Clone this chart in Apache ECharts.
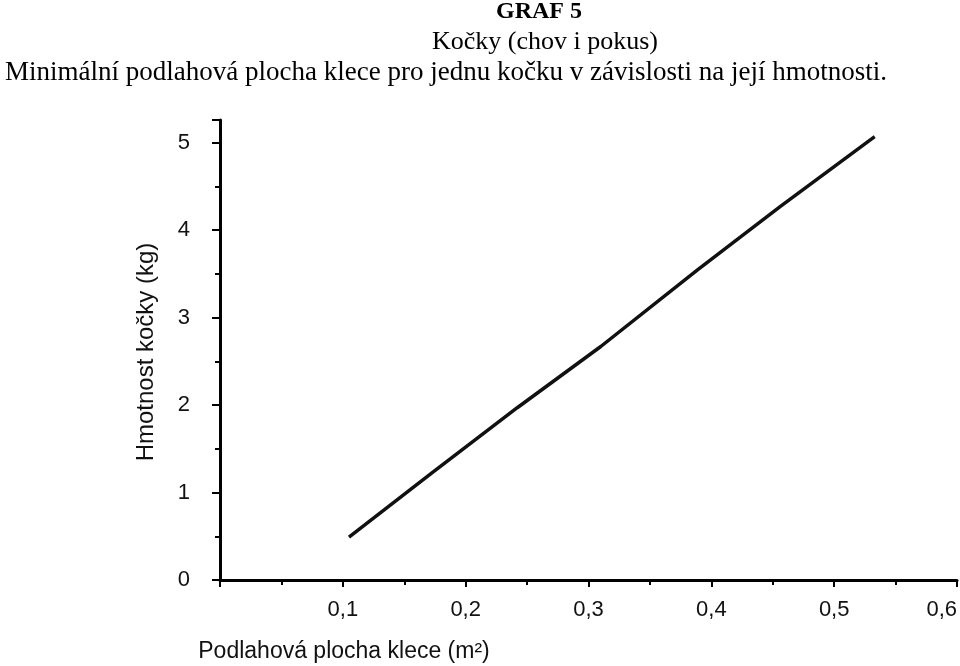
<!DOCTYPE html>
<html>
<head>
<meta charset="utf-8">
<script src="https://cdn.jsdelivr.net/npm/echarts@6/dist/echarts.min.js"></script>
<style>html,body{margin:0;padding:0;background:#fff}#c{width:960px;height:666px}</style>
</head>
<body>
<div id="c"></div>
<script>
const titleLines = ['GRAF 5', 'Kočky (chov i pokus)', 'Minimální podlahová plocha klece pro jednu kočku v závislosti na její hmotnosti.'];
const xAxisName = 'Podlahová plocha klece (m²)';
const yAxisName = 'Hmotnost kočky (kg)';
const areaM2 = [0.105, 0.172, 0.242, 0.310, 0.389, 0.456, 0.533];
const weightKg = [0.49, 1.22, 1.97, 2.67, 3.55, 4.27, 5.07];

const chart = echarts.init(document.getElementById('c'));
const sans = 'Liberation Sans, Arial, sans-serif';
const serif = 'Liberation Serif, Times New Roman, serif';
chart.setOption({
  animation: false,
  backgroundColor: '#fff',
  grid: { left: 220, right: 3, top: 120, bottom: 86, containLabel: false, outerBoundsMode: 'none' },
  xAxis: {
    type: 'value', min: 0, max: 0.6, interval: 0.1,
    axisLine: { lineStyle: { color: '#000', width: 3 } },
    axisTick: { show: true, inside: false, length: 7, lineStyle: { color: '#000', width: 2 } },
    minorTick: { show: true, splitNumber: 2, length: 5, lineStyle: { color: '#000', width: 2 } },
    splitLine: { show: false },
    axisLabel: {
      margin: 19, fontSize: 22, fontFamily: sans, color: '#111', hideOverlap: false,
      alignMaxLabel: 'right',
      formatter: v => v === 0 ? '' : v.toFixed(1).replace('.', ',')
    }
  },
  yAxis: {
    type: 'value', min: 0, max: 5.26, interval: 1,
    axisLine: { lineStyle: { color: '#000', width: 3 } },
    axisTick: { show: true, inside: false, length: 8, lineStyle: { color: '#000', width: 2 } },
    minorTick: { show: true, splitNumber: 2, length: 5, lineStyle: { color: '#000', width: 2 } },
    splitLine: { show: false },
    axisLabel: {
      margin: 30, fontSize: 22, fontFamily: sans, color: '#111',
      formatter: v => Number.isInteger(v) ? String(v) : ''
    }
  },
  graphic: [
    { type: 'text', x: 539, y: 12, style: { text: titleLines[0], font: 'bold 24px ' + serif, fill: '#000', align: 'center', verticalAlign: 'middle' } },
    { type: 'text', x: 545, y: 42, style: { text: titleLines[1], font: '26px ' + serif, fill: '#000', align: 'center', verticalAlign: 'middle' } },
    { type: 'text', x: 446, y: 73, style: { text: titleLines[2], font: '27px ' + serif, fill: '#000', align: 'center', verticalAlign: 'middle' } },
    { type: 'text', x: 344, y: 652, style: { text: xAxisName, font: '23px ' + sans, fill: '#111', align: 'center', verticalAlign: 'middle' } },
    { type: 'text', x: 146, y: 352, rotation: Math.PI / 2, style: { text: yAxisName, font: '24px ' + sans, fill: '#111', align: 'center', verticalAlign: 'middle' } }
  ],
  series: [{
    type: 'line',
    data: areaM2.map((x, i) => [x, weightKg[i]]),
    symbol: 'none',
    lineStyle: { color: '#111', width: 3.5 }
  }]
});
</script>
</body>
</html>
